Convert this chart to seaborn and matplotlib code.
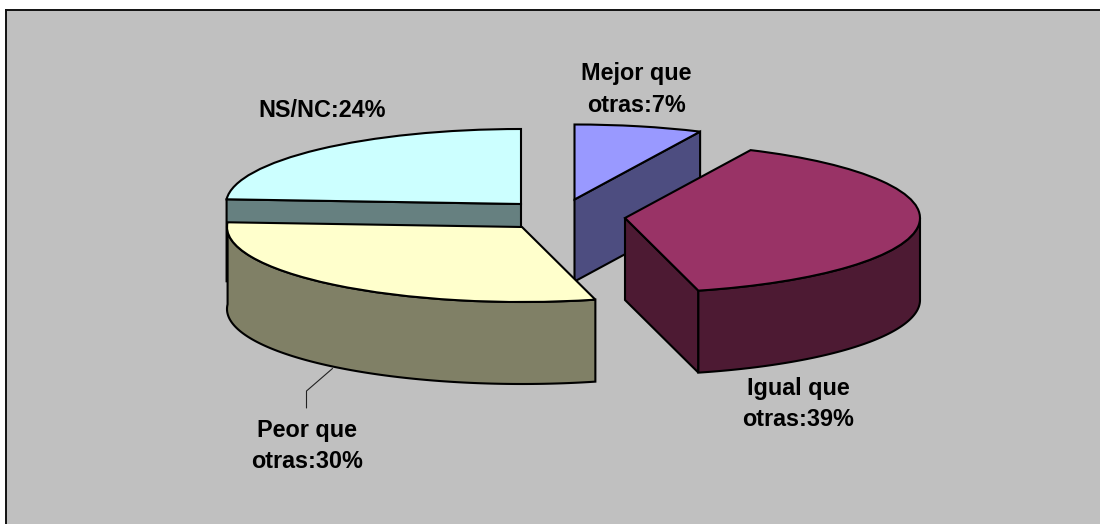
import numpy as np
import matplotlib
matplotlib.use("Agg")
import matplotlib.pyplot as plt
import seaborn as sns

# --- data -------------------------------------------------------------
categories = ["Mejor que", "Igual que", "Peor que", "NS/NC"]
values = [7, 39, 30, 24]
label_texts = ["Mejor que\notras:7%", "Igual que\notras:39%", "Peor que\notras:30%", "NS/NC:24%"]
top_colors = ["#9999FF", "#993366", "#FFFFCC", "#CCFFFF"]

# --- layout (pixels of the 1100x524 canvas) ---------------------------
W, H = 1100, 524
FRAME_X, FRAME_Y = 6, 10
A_PX, B_PX, DEPTH_PX = 295.0, 75.0, 82.0
apex_px = [(574.5, 199.5), (625.0, 218.0), (522.0, 227.0), (521.0, 204.0)]
label_px = [(636, 89.5), (798.5, 404), (307, 446), (322, 110)]
leader_px = [(332.5, 368.5), (306.5, 391), (306.5, 408)]
layer = [1, 3, 4, 2]
LW = 1.5


def data_x(px):
    return (px - FRAME_X) / A_PX


def data_y(py):
    return (H - py) / B_PX


sns.set_theme(style="white")
plt.rcParams["font.family"] = ["Liberation Sans", "DejaVu Sans"]
palette = sns.color_palette(top_colors)
side_colors = [tuple(0.5 * c for c in col) for col in palette]

fig = plt.figure(figsize=(W / 100, H / 100), dpi=100, facecolor="white")
ax = fig.add_axes([FRAME_X / W, 0, (W - FRAME_X) / W, (H - FRAME_Y) / H])

wedges, _ = ax.pie(
    values, startangle=90, counterclock=False, colors=palette, radius=1,
    wedgeprops=dict(edgecolor="black", linewidth=LW, joinstyle="miter"),
)
ax.set_aspect("auto")
ax.set_xlim(0, (W - FRAME_X) / A_PX)
ax.set_ylim(0, data_y(FRAME_Y))
ax.set_frame_on(True)
ax.set_facecolor("#C0C0C0")
sns.despine(ax=ax, top=False, left=False, right=True, bottom=True)
for s in ("top", "left"):
    ax.spines[s].set_color("#111111")
    ax.spines[s].set_linewidth(1.4)

depth = DEPTH_PX / B_PX
edge = dict(edgecolor="black", linewidth=LW, joinstyle="miter")

for w, (ax_px, ay_px), side, z in zip(wedges, apex_px, side_colors, layer):
    cx, cy = data_x(ax_px), data_y(ay_px)
    w.set_center((cx, cy))
    w.set_zorder(z + 0.5)
    # flat radial faces: only those turned towards the viewer
    visible = []
    if np.cos(np.radians(w.theta1)) > 1e-6:
        visible.append(w.theta1)
    if np.cos(np.radians(w.theta2)) < -1e-6:
        visible.append(w.theta2)
    for th in visible:
        ex = cx + np.cos(np.radians(th))
        ey = cy + np.sin(np.radians(th))
        ax.fill([cx, ex, ex, cx], [cy, ey, ey - depth, cy - depth],
                facecolor=side, zorder=z, **edge)
    # curved outer wall: the part of the arc on the near side of the pie
    lo, hi = w.theta1, min(w.theta2, 0.0)
    if lo < 0 and hi > lo and w.theta2 > -180:
        t = np.radians(np.linspace(lo, hi, 160))
        xs = cx + np.cos(t)
        ys = cy + np.sin(t)
        ax.fill(np.r_[xs, xs[::-1]], np.r_[ys, ys[::-1] - depth],
                facecolor=side, zorder=z + 0.2, **edge)

for txt, (lx, ly) in zip(label_texts, label_px):
    ax.text(data_x(lx), data_y(ly), txt, ha="center", va="center",
            fontsize=16.8, fontweight="bold", color="black",
            linespacing=1.46, zorder=10)

ax.plot([data_x(p[0]) for p in leader_px], [data_y(p[1]) for p in leader_px],
        color="#222222", lw=0.8, zorder=9)

fig.savefig("out.png", dpi=100, facecolor="white")
